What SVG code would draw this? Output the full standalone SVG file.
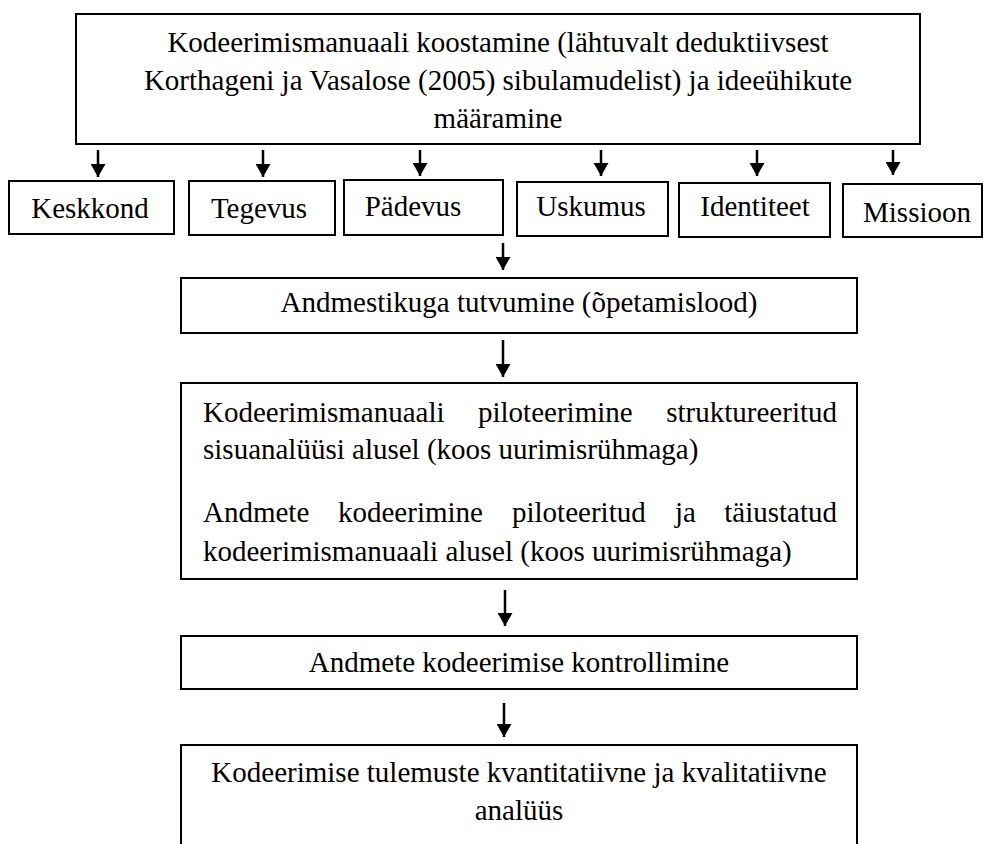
<svg xmlns="http://www.w3.org/2000/svg" width="984" height="844" viewBox="0 0 984 844">
<style>
  .box { fill: #ffffff; stroke: #000000; stroke-width: 2; }
  .t { font-family: "Liberation Serif", "Times New Roman", serif; font-size: 29px; fill: #000000; }
  .c { text-anchor: middle; }
  .e { text-anchor: end; }
  .arr { stroke: #000000; stroke-width: 2.5; fill: none; marker-end: url(#ah); }
</style>
<defs>
  <marker id="ah" viewBox="0 0 13 15" refX="13" refY="7.5" markerWidth="13" markerHeight="15" markerUnits="userSpaceOnUse" orient="auto">
    <path d="M0,0 L13,7.5 L0,15 z" fill="#000000"/>
  </marker>
</defs>
<rect width="984" height="844" fill="#ffffff"/>

<g id="connectors">
  <line class="arr" x1="98" y1="150" x2="98" y2="177"/>
  <line class="arr" x1="263" y1="150" x2="263" y2="177"/>
  <line class="arr" x1="420" y1="150" x2="420" y2="176"/>
  <line class="arr" x1="601" y1="150" x2="601" y2="176"/>
  <line class="arr" x1="757" y1="150" x2="757" y2="176"/>
  <line class="arr" x1="893" y1="150" x2="893" y2="175"/>
  <line class="arr" x1="503" y1="243" x2="503" y2="270"/>
  <line class="arr" x1="503" y1="340" x2="503" y2="377"/>
  <line class="arr" x1="505" y1="590" x2="505" y2="626"/>
  <line class="arr" x1="504" y1="703" x2="504" y2="737"/>
</g>

<g id="node-manual">
  <rect class="box" x="76" y="14" width="844" height="130"/>
  <text class="t c" x="498" y="52">Kodeerimismanuaali koostamine (lähtuvalt deduktiivsest</text>
  <text class="t c" x="498" y="90">Korthageni ja Vasalose (2005) sibulamudelist) ja ideeühikute</text>
  <text class="t c" x="498" y="128">määramine</text>
</g>

<g id="node-keskkond">
  <rect class="box" x="9" y="181" width="165" height="53"/>
  <text class="t c" x="90" y="218">Keskkond</text>
</g>
<g id="node-tegevus">
  <rect class="box" x="189" y="181" width="146" height="54"/>
  <text class="t c" x="259" y="218">Tegevus</text>
</g>
<g id="node-padevus">
  <rect class="box" x="344" y="180" width="159" height="55"/>
  <text class="t c" x="413" y="216">Pädevus</text>
</g>
<g id="node-uskumus">
  <rect class="box" x="517" y="182" width="151" height="54"/>
  <text class="t c" x="591" y="216">Uskumus</text>
</g>
<g id="node-identiteet">
  <rect class="box" x="679" y="183" width="151" height="54"/>
  <text class="t c" x="755" y="216">Identiteet</text>
</g>
<g id="node-missioon">
  <rect class="box" x="843" y="184" width="139" height="53"/>
  <text class="t c" x="917" y="222">Missioon</text>
</g>

<g id="node-andmestik">
  <rect class="box" x="181" y="278" width="676" height="55"/>
  <text class="t c" x="519" y="312">Andmestikuga tutvumine (õpetamislood)</text>
</g>

<g id="node-piloteerimine">
  <rect class="box" x="181" y="383" width="676" height="196"/>
  <text class="t" x="203" y="422">Kodeerimismanuaali</text>
  <text class="t" x="478" y="422">piloteerimine</text>
  <text class="t e" x="837" y="422">struktureeritud</text>
  <text class="t" x="203" y="459">sisuanalüüsi alusel (koos uurimisrühmaga)</text>
  <text class="t" x="203" y="522">Andmete</text>
  <text class="t" x="338" y="522">kodeerimine</text>
  <text class="t" x="512" y="522">piloteeritud</text>
  <text class="t" x="675" y="522">ja</text>
  <text class="t e" x="837" y="522">täiustatud</text>
  <text class="t" x="203" y="561">kodeerimismanuaali alusel (koos uurimisrühmaga)</text>
</g>

<g id="node-kontroll">
  <rect class="box" x="181" y="636" width="676" height="53"/>
  <text class="t c" x="519" y="672">Andmete kodeerimise kontrollimine</text>
</g>

<g id="node-analyys">
  <rect class="box" x="181" y="745" width="676" height="120"/>
  <text class="t c" x="519" y="782">Kodeerimise tulemuste kvantitatiivne ja kvalitatiivne</text>
  <text class="t c" x="519" y="820">analüüs</text>
</g>
</svg>
